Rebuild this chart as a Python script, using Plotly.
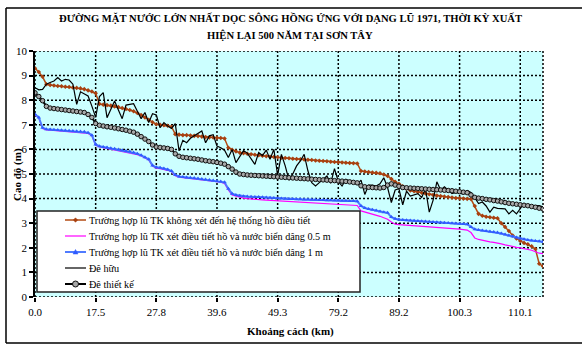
import plotly.graph_objects as go

# Tick labels (km) shown along the category axis
tick_pos = [0, 16, 32, 48, 64, 80, 96, 112, 128]
tick_labels = ["0.0", "17.5", "27.8", "39.6", "49.3", "79.2", "89.2", "100.3", "110.1"]
y_ticks = list(range(0, 11))

# Brown: Trường hợp lũ TK không xét đến hệ thống hồ điều tiết
s_no_res = [9.30, 9.15, 8.95, 8.65, 8.62, 8.60, 8.58, 8.57, 8.55, 8.54, 8.52, 8.50, 8.48, 8.45, 8.40, 8.35,
            8.28, 7.85, 7.82, 7.80, 7.78, 7.75, 7.72, 7.68, 7.64, 7.60, 7.55, 7.48, 7.40, 7.30, 7.20, 7.10,
            7.02, 7.00, 6.98, 6.96, 6.92, 6.62, 6.60, 6.58, 6.58, 6.56, 6.55, 6.54, 6.52, 6.50, 6.49, 6.48,
            6.47, 6.46, 6.44, 6.07, 5.98, 5.92, 5.87, 5.84, 5.82, 5.80, 5.78, 5.76, 5.74, 5.72, 5.70, 5.69,
            5.68, 5.66, 5.65, 5.64, 5.62, 5.61, 5.60, 5.59, 5.58, 5.57, 5.55, 5.54, 5.53, 5.52, 5.50, 5.49,
            5.48, 5.47, 5.46, 5.45, 5.44, 5.43, 5.12, 5.10, 5.08, 5.06, 5.05, 5.03, 4.98, 4.92, 4.80, 4.68,
            4.60, 4.50, 4.40, 4.33, 4.30, 4.27, 4.24, 4.21, 4.18, 4.15, 4.12, 4.10, 4.08, 4.06, 4.04, 4.02,
            4.01, 4.00, 3.99, 3.98, 3.70, 3.38, 3.30, 3.26, 3.24, 3.22, 3.20, 3.00, 2.85, 2.68, 2.50, 2.38,
            2.28, 2.20, 2.14, 2.06, 1.95, 1.35, 1.25]

# Blue: xét điều tiết hồ và nước biển dâng 1 m
s_sea_1m = [7.43, 7.30, 6.88, 6.82, 6.81, 6.80, 6.79, 6.78, 6.77, 6.76, 6.75, 6.74, 6.73, 6.72, 6.68, 6.58,
            6.20, 6.13, 6.10, 6.08, 6.05, 6.03, 6.00, 5.97, 5.94, 5.91, 5.87, 5.82, 5.76, 5.68, 5.60, 5.35,
            5.27, 5.25, 5.22, 5.18, 5.12, 4.96, 4.90, 4.88, 4.86, 4.85, 4.84, 4.82, 4.80, 4.78, 4.76, 4.74,
            4.72, 4.70, 4.66, 4.40, 4.20, 4.15, 4.12, 4.10, 4.09, 4.08, 4.07, 4.06, 4.05, 4.04, 4.03, 4.02,
            4.01, 4.00, 3.99, 3.98, 3.98, 3.97, 3.97, 3.96, 3.96, 3.95, 3.95, 3.94, 3.94, 3.93, 3.93, 3.92,
            3.92, 3.91, 3.91, 3.90, 3.90, 3.89, 3.70, 3.62, 3.58, 3.55, 3.52, 3.48, 3.45, 3.42, 3.25, 3.18,
            3.15, 3.13, 3.12, 3.11, 3.10, 3.09, 3.08, 3.07, 3.06, 3.05, 3.04, 3.03, 3.02, 3.01, 3.00, 2.99,
            2.98, 2.97, 2.96, 2.85, 2.75, 2.72, 2.70, 2.68, 2.66, 2.64, 2.62, 2.58, 2.54, 2.50, 2.46, 2.42,
            2.38, 2.35, 2.32, 2.30, 2.28, 2.27, 2.25]

# Magenta: xét điều tiết hồ và nước biển dâng 0.5 m
s_sea_05m = [7.40, 7.27, 6.85, 6.79, 6.78, 6.77, 6.76, 6.75, 6.74, 6.73, 6.72, 6.71, 6.70, 6.69, 6.65, 6.55,
             6.17, 6.10, 6.07, 6.05, 6.02, 6.00, 5.97, 5.94, 5.91, 5.88, 5.84, 5.79, 5.73, 5.65, 5.57, 5.32,
             5.24, 5.22, 5.19, 5.15, 5.09, 4.93, 4.87, 4.85, 4.83, 4.82, 4.81, 4.79, 4.77, 4.75, 4.73, 4.71,
             4.69, 4.67, 4.62, 4.35, 4.15, 4.10, 4.04, 4.02, 4.00, 3.98, 3.97, 3.96, 3.95, 3.94, 3.93, 3.92,
             3.91, 3.90, 3.89, 3.88, 3.87, 3.86, 3.85, 3.84, 3.83, 3.82, 3.81, 3.80, 3.79, 3.78, 3.77, 3.76,
             3.75, 3.74, 3.74, 3.73, 3.73, 3.72, 3.50, 3.46, 3.42, 3.38, 3.33, 3.28, 3.22, 3.16, 3.05, 2.96,
             2.94, 2.93, 2.92, 2.91, 2.90, 2.89, 2.88, 2.87, 2.86, 2.85, 2.84, 2.83, 2.82, 2.81, 2.80, 2.78,
             2.76, 2.74, 2.72, 2.62, 2.40, 2.34, 2.30, 2.27, 2.24, 2.22, 2.20, 2.16, 2.12, 2.08, 2.05, 2.02,
             2.00, 1.97, 1.94, 1.90, 1.84, 1.78, 1.76]

# Đê hữu (thin black)
s_de_huu = [8.51, 8.42, 8.44, 8.65, 8.72, 8.78, 8.92, 8.78, 8.85, 8.82, 8.65, 7.83, 8.34, 8.25, 8.17, 7.76,
            7.30, 8.15, 8.31, 7.29, 7.65, 7.97, 7.60, 7.25, 7.80, 7.84, 7.86, 7.55, 7.25, 7.50, 7.09, 7.45,
            7.40, 6.88, 7.09, 6.95, 6.85, 7.05, 5.94, 6.37, 6.27, 6.45, 6.55, 6.65, 6.75, 6.27, 6.55, 6.60,
            6.14, 6.07, 5.97, 5.67, 6.00, 5.46, 5.73, 5.95, 5.85, 5.60, 5.39, 5.87, 5.75, 5.97, 5.60, 6.00,
            4.95, 5.80, 5.33, 4.75, 5.00, 5.33, 5.53, 5.80, 5.12, 4.65, 4.51, 4.65, 4.78, 4.92, 4.62, 5.22,
            4.70, 4.51, 4.78, 4.70, 4.65, 4.58, 4.75, 4.17, 4.55, 4.55, 4.51, 4.60, 4.85, 4.45, 3.84, 4.35,
            4.40, 3.75, 4.30, 4.10, 4.15, 4.20, 4.05, 4.40, 3.45, 3.93, 4.68, 4.35, 4.48, 4.33, 4.20, 4.25,
            4.22, 4.18, 4.33, 4.25, 4.04, 3.80, 3.86, 3.70, 3.45, 3.65, 3.60, 3.58, 3.58, 3.38, 3.52, 3.38,
            3.58, 3.80, 3.66, 3.72, 3.72, 3.72, 3.66]

# Đê thiết kế (thick black with circles)
s_de_tk = [8.30, 8.15, 7.98, 7.75, 7.68, 7.66, 7.64, 7.62, 7.60, 7.58, 7.56, 7.54, 7.52, 7.50, 7.42, 7.30,
           7.05, 6.98, 6.95, 6.92, 6.90, 6.87, 6.84, 6.81, 6.78, 6.74, 6.70, 6.62, 6.52, 6.42, 6.32, 6.18,
           6.10, 6.08, 6.06, 6.04, 6.00, 5.82, 5.72, 5.68, 5.66, 5.64, 5.62, 5.60, 5.57, 5.54, 5.52, 5.50,
           5.47, 5.44, 5.40, 5.30, 5.20, 5.08, 5.00, 4.98, 4.96, 4.95, 4.94, 4.93, 4.92, 4.91, 4.90, 4.89,
           4.88, 4.87, 4.86, 4.85, 4.84, 4.83, 4.82, 4.81, 4.80, 4.79, 4.78, 4.77, 4.76, 4.75, 4.74, 4.73,
           4.72, 4.71, 4.70, 4.68, 4.66, 4.64, 4.52, 4.48, 4.46, 4.45, 4.44, 4.43, 4.45, 4.55, 4.60, 4.55,
           4.50, 4.45, 4.44, 4.43, 4.42, 4.41, 4.40, 4.39, 4.38, 4.37, 4.36, 4.35, 4.34, 4.33, 4.32, 4.30,
           4.28, 4.26, 4.24, 4.15, 4.05, 4.02, 4.00, 3.97, 3.95, 3.92, 3.90, 3.87, 3.84, 3.81, 3.79, 3.77,
           3.75, 3.73, 3.71, 3.68, 3.65, 3.61, 3.58]

names = [
    "Trường hợp lũ TK không xét đến hệ thống hồ điều tiết",
    "Trường hợp lũ TK xét điều tiết hồ và nước biển dâng 0.5 m",
    "Trường hợp lũ TK xét điều tiết hồ và nước biển dâng 1 m",
    "Đê hữu",
    "Đê thiết kế",
]
title_lines = ["ĐƯỜNG MẶT NƯỚC LỚN NHẤT DỌC SÔNG HỒNG ỨNG VỚI DẠNG LŨ 1971, THỜI KỲ XUẤT",
               "HIỆN LẠI 500 NĂM TẠI SƠN TÂY"]
x_title = "Khoảng cách (km)"
y_title = "Cao độ (m)"

idx = list(range(len(s_no_res)))
FONT = "Liberation Serif, Times New Roman, serif"
W, H = 582, 350
ML, MR, MT, MB = 35, 39, 51, 53
PW, PH = W - ML - MR, H - MT - MB


def px_x(x):  # pixel -> paper (plot-area) x
    return (x - ML) / PW


def px_y(y):  # pixel -> paper (plot-area) y
    return (H - MB - y) / PH


styles = [
    dict(line=dict(color="#B34A12", width=1.5), marker=dict(symbol="diamond", size=3.5, color="#A84010"),
         mode="lines+markers"),
    dict(line=dict(color="#FF00FF", width=1.2), mode="lines"),
    dict(line=dict(color="#4F7BFF", width=2), marker=dict(symbol="triangle-up", size=4, color="#2F5BFF"),
         mode="lines+markers"),
    dict(line=dict(color="black", width=1.2), mode="lines"),
    dict(line=dict(color="black", width=2),
         marker=dict(symbol="circle", size=4.5, color="#A8A8A8", line=dict(color="#101010", width=1)),
         mode="lines+markers"),
]
series = [s_no_res, s_sea_05m, s_sea_1m, s_de_huu, s_de_tk]

fig = go.Figure()
for nm, ys, st in zip(names, series, styles):
    fig.add_trace(go.Scatter(x=idx, y=ys, name=nm, showlegend=False, **st))

GRID = dict(color="black", width=1.5, dash="2px,2px")
for p in tick_pos:
    fig.add_shape(type="line", xref="x", yref="y domain", x0=p, x1=p, y0=0, y1=1,
                  line=GRID, layer="below")
for v in y_ticks:
    fig.add_shape(type="line", xref="x domain", yref="y", x0=0, x1=1, y0=v, y1=v,
                  line=GRID, layer="below")
fig.add_shape(type="line", xref="x domain", yref="y domain", x0=1, x1=1, y0=0, y1=1,
              line=GRID, layer="below")

# outer chart frame (left, top, bottom)
FL, FT, FB = px_x(6), px_y(8), px_y(343)
for (x0, y0, x1, y1) in [(FL, FT, px_x(W + 2), FT), (FL, FT, FL, FB), (FL, FB, px_x(W + 2), FB)]:
    fig.add_shape(type="line", xref="paper", yref="paper", x0=x0, y0=y0, x1=x1, y1=y1,
                  line=dict(color="black", width=1.5), layer="above")

# ---- legend box (drawn to match the compact Excel legend) ----
fig.add_shape(type="rect", xref="paper", yref="paper", x0=px_x(37), x1=px_x(360),
              y0=px_y(292), y1=px_y(211), fillcolor="white",
              line=dict(color="#222222", width=1.5), layer="above")
item_y = [220, 236, 252, 268, 284]
for nm, st, yy in zip(names, styles, item_y):
    ln = st["line"]
    fig.add_shape(type="line", xref="paper", yref="paper", x0=px_x(65), x1=px_x(86),
                  y0=px_y(yy), y1=px_y(yy), line=dict(color=ln["color"], width=ln["width"]),
                  layer="above")
    mk = st.get("marker")
    if mk is not None:
        common = dict(xref="paper", yref="paper", xsizemode="pixel", ysizemode="pixel",
                      xanchor=px_x(75.5), yanchor=px_y(yy), layer="above")
        if mk["symbol"] == "circle":
            fig.add_shape(type="circle", x0=-3, x1=3, y0=-3, y1=3, fillcolor=mk["color"],
                          line=dict(color="#101010", width=1), **common)
        elif mk["symbol"] == "diamond":
            fig.add_shape(type="path", path="M -2.2,0 L 0,2.2 L 2.2,0 L 0,-2.2 Z",
                          fillcolor=mk["color"], line=dict(color=mk["color"], width=0.5), **common)
        else:
            fig.add_shape(type="path", path="M -2.5,-2 L 2.5,-2 L 0,2.5 Z",
                          fillcolor=mk["color"], line=dict(color=mk["color"], width=0.5), **common)
    fig.add_annotation(text=nm, xref="paper", yref="paper", x=px_x(87), y=px_y(yy),
                       xanchor="left", yanchor="middle", showarrow=False,
                       font=dict(family=FONT, size=10.2, color="black"))

# title as two centred text lines
for txt, ypx in zip(title_lines, [18, 35]):
    fig.add_annotation(text="<b>" + txt + "</b>", xref="paper", yref="paper",
                       x=px_x(290), y=px_y(ypx), xanchor="center", yanchor="middle",
                       showarrow=False, font=dict(family=FONT, size=10.6, color="black"))
# axis titles
fig.add_annotation(text="<b>" + x_title + "</b>", xref="paper", yref="paper",
                   x=px_x(290), y=px_y(331), xanchor="center", yanchor="middle",
                   showarrow=False, font=dict(family=FONT, size=11, color="black"))
fig.add_annotation(text="<b>" + y_title + "</b>", xref="paper", yref="paper",
                   x=px_x(17), y=px_y(175), xanchor="center", yanchor="middle", textangle=-90,
                   showarrow=False, font=dict(family=FONT, size=11, color="black"))

fig.update_layout(
    width=W, height=H,
    margin=dict(l=ML, r=MR, t=MT, b=MB, autoexpand=False),
    paper_bgcolor="white",
    plot_bgcolor="#CCFFFF",
    font=dict(family=FONT, size=11, color="black"),
    showlegend=False,
    xaxis=dict(range=[0, len(s_no_res) - 1], tickmode="array", tickvals=tick_pos, ticktext=tick_labels,
               showgrid=False, ticks="outside", ticklen=4, tickcolor="black", tickwidth=1.5,
               zeroline=False, showline=False, automargin=False, ticklabelstandoff=1,
               tickfont=dict(family=FONT, size=11)),
    yaxis=dict(range=[0, 10], tickmode="array", tickvals=y_ticks, showgrid=False,
               ticks="outside", ticklen=4, tickcolor="black", tickwidth=1.5, zeroline=False,
               showline=True, linecolor="black", linewidth=1.5, automargin=False,
               tickfont=dict(family=FONT, size=11)),
)

fig.write_html("out.html", config={"displayModeBar": False},
               post_script="document.body.style.margin='0px';")
